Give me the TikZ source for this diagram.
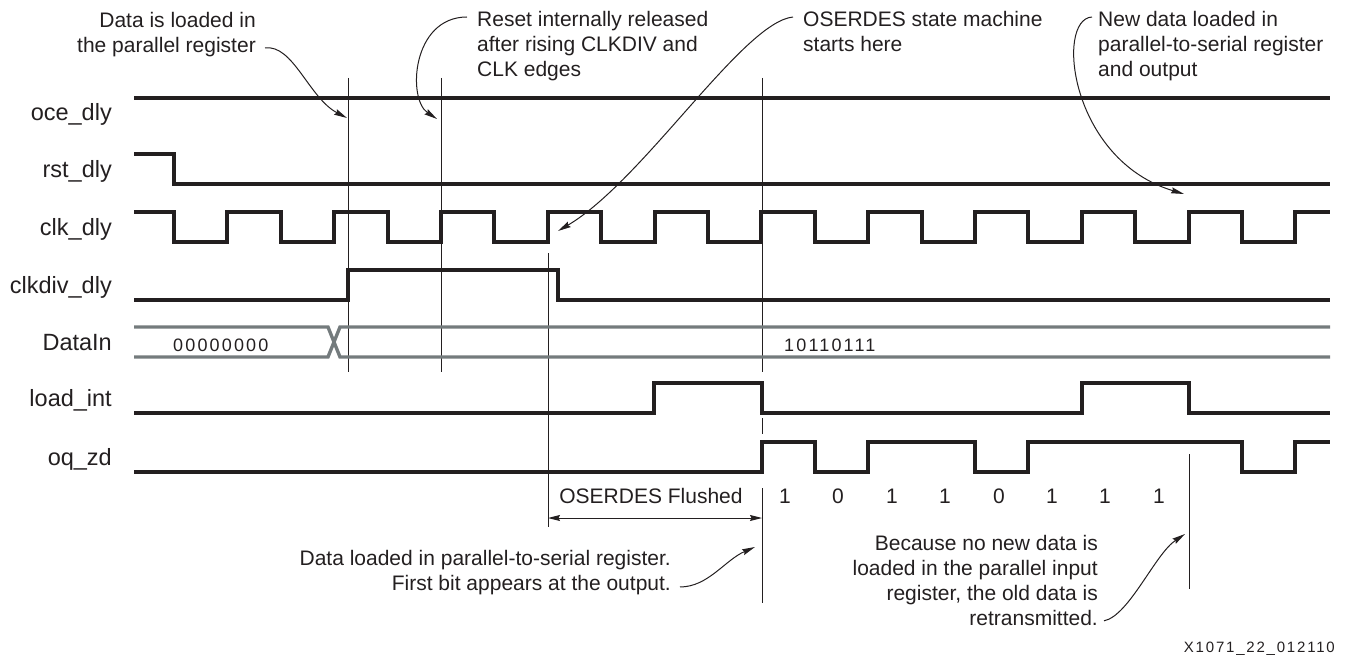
\documentclass[tikz,border=0pt]{standalone}
\usepackage{fontspec}
\setmainfont{Liberation Sans}
\newfontfamily\busfont[LetterSpace=12]{Liberation Sans}
\newfontfamily\idfont[LetterSpace=12]{Liberation Sans}
\usetikzlibrary{arrows.meta}
\definecolor{ink}{RGB}{35,31,32}
\definecolor{busgray}{RGB}{116,123,125}
\tikzset{
  wave/.style={draw=ink, line width=3.6pt, line join=miter},
  bus/.style={draw=busgray, line width=3.4pt, line join=miter},
  marker/.style={draw=ink, line width=0.9pt},
  callout/.style={draw=ink, line width=1pt, -{Stealth[length=13pt,width=6pt,inset=1.5pt]}},
  span/.style={draw=ink, line width=1pt, {Stealth[length=12pt,width=6pt,inset=1.5pt]}-{Stealth[length=12pt,width=6pt,inset=1.5pt]}},
  signame/.style={anchor=base east, inner sep=0pt, text=ink, font=\fontsize{23.5}{27}\selectfont},
  note/.style={inner sep=0pt, text=ink, font=\fontsize{21}{25}\selectfont},
  bit/.style={anchor=base, inner sep=0pt, text=ink, font=\fontsize{21}{25}\selectfont},
  busval/.style={anchor=base west, inner sep=0pt, text=ink, font=\busfont\fontsize{18}{22}\selectfont},
}
\begin{document}
\begin{tikzpicture}[x=1pt,y=-1pt]
  \useasboundingbox (0,0) rectangle (1348,658);
  % signal names
  \path
    (112,121) node[signame] (oce) {oce\_dly}
    (112,177) node[signame] (rst) {rst\_dly}
    (112,235) node[signame] (clk) {clk\_dly}
    (112,293) node[signame] (clkdiv) {clkdiv\_dly}
    (112,350) node[signame] (datain) {DataIn}
    (112,406) node[signame] (load) {load\_int}
    (112,465) node[signame] (oq) {oq\_zd};
  % timing markers
  \begin{scope}[marker]
    \draw (348,78) -- (348,372);
    \draw (441,78) -- (441,372);
    \draw (762,78) -- (762,372);
    \draw (762,418) -- (762,434);
    \draw (548,253) -- (548,527);
    \draw (762,488) -- (762,603);
    \draw (1189,454) -- (1189,589);
  \end{scope}
  % waveforms
  \draw[wave] (134,98) -- (1330,98);
  \draw[wave] (134,154) -| (174,184) -- (1330,184);
  \draw[wave] (134,212) -| (174,242) -| (227,212) -| (281,242) -| (334,212)
    -| (388,242) -| (441,212) -| (494,242) -| (548,212) -| (601,242)
    -| (655,212) -| (708,242) -| (761,212) -| (815,242) -| (868,212)
    -| (922,242) -| (975,212) -| (1028,242) -| (1082,212) -| (1135,242)
    -| (1189,212) -| (1242,242) -| (1295,212) -- (1330,212);
  \draw[wave] (134,300) -| (348,270) -| (558,300) -- (1330,300);
  \draw[bus] (134,327) -- (328,327) -- (340,357) -- (1330,357);
  \draw[bus] (134,357) -- (328,357) -- (340,327) -- (1330,327);
  \draw[wave] (134,413) -| (654,383) -| (762,413) -| (1082,383) -| (1189,413) -- (1330,413);
  \draw[wave] (134,472) -| (762,442) -| (815,472) -| (868,442) -| (975,472)
    -| (1028,442) -| (1242,472) -| (1295,442) -- (1330,442);
  \node[busval] (oldval) at (173,351) {00000000};
  \node[busval] (newval) at (784,351) {10110111};
  % serial bits
  \path
    (785,503) node[bit] (bit1) {1}
    (838,503) node[bit] (bit2) {0}
    (892,503) node[bit] (bit3) {1}
    (945,503) node[bit] (bit4) {1}
    (999,503) node[bit] (bit5) {0}
    (1052,503) node[bit] (bit6) {1}
    (1105,503) node[bit] (bit7) {1}
    (1159,503) node[bit] (bit8) {1};
  % flushed span
  \coordinate (flushL) at (548,518);
  \coordinate (flushR) at (762,518);
  \draw[span] (flushL) -- (flushR);
  \node[bit] (flushed) at (651,503) {OSERDES Flushed};
  % notes
  \node[note, anchor=north east, align=right] (loadnote) at (256,12)
    {Data is loaded in\\the parallel register};
  \node[note, anchor=north west, align=left] (resetnote) at (477,11)
    {Reset internally released\\after rising CLKDIV and\\CLK edges};
  \node[note, anchor=north west, align=left] (statenote) at (803,11)
    {OSERDES state machine\\starts here};
  \node[note, anchor=north west, align=left] (newnote) at (1098,11)
    {New data loaded in\\parallel-to-serial register\\and output};
  \node[note, anchor=north east, align=right] (firstnote) at (671,550)
    {Data loaded in parallel-to-serial register.\\First bit appears at the output.};
  \node[note, anchor=north east, align=right] (oldnote) at (1098,535)
    {Because no new data is\\loaded in the parallel input\\register, the old data is\\retransmitted.};
  \node[anchor=base east, inner sep=0pt, text=ink, font=\idfont\fontsize{15}{18}\selectfont] (figid) at (1335,652) {X1071\_22\_012110};
  % callout arrows
  \coordinate (tipLoad) at (347,118);
  \coordinate (tipReset) at (437,119);
  \coordinate (tipState) at (558,231);
  \coordinate (tipNew) at (1184,194);
  \coordinate (tipFirst) at (755,547);
  \coordinate (tipOld) at (1185,534);
  \draw[callout] ([xshift=9pt,yshift=9pt]loadnote.south east) .. controls +(28,-4) and +(-38,-20) .. (tipLoad);
  \draw[callout] ([xshift=-10pt,yshift=-6pt]resetnote.north west) .. controls +(-55,0) and +(-30,-20) .. (tipReset);
  \draw[callout] ([xshift=-10pt,yshift=-6pt]statenote.north west) .. controls +(-50,5) and +(85,-50) .. (tipState);
  \draw[callout] ([xshift=-6pt,yshift=-6pt]newnote.north west) .. controls +(-37,2) and +(-114,-34) .. (tipNew);
  \draw[callout] ([xshift=9pt,yshift=8pt]firstnote.south east) .. controls +(28,0) and +(-30,13) .. (tipFirst);
  \draw[callout] ([xshift=6pt,yshift=5pt]oldnote.south east) .. controls +(25,-5) and +(-30,20) .. (tipOld);
\end{tikzpicture}
\end{document}
